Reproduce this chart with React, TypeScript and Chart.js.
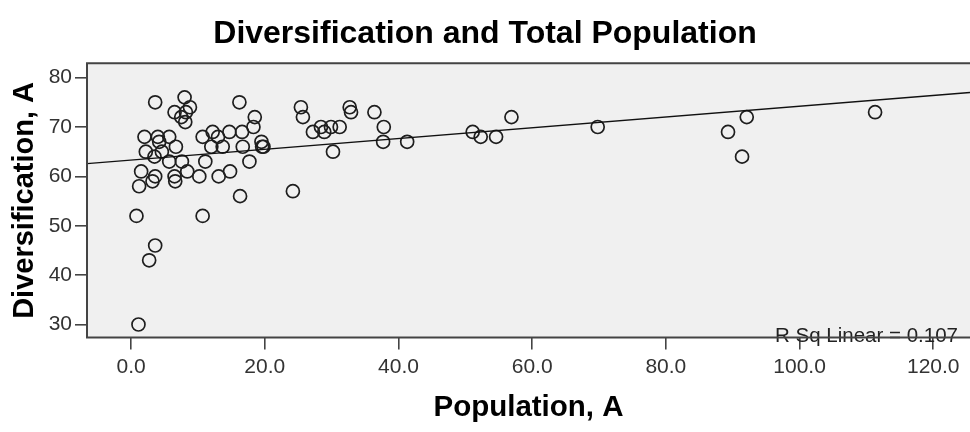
import React, { useEffect, useRef } from 'react';
import { Chart, registerables } from 'chart.js';

Chart.register(...registerables);

// Population, A (x) and Diversification, A (y)
const popX = [
  1.1, 0.8, 2.7, 3.6, 1.2, 3.2, 1.5, 3.6, 2.2, 4.6, 3.5, 2.0, 4.0, 5.7, 4.2, 6.7, 5.7, 7.6, 6.5, 6.6, 8.4, 3.6, 8.0, 8.8, 6.5, 7.5, 8.1, 8.2,
  10.7, 10.2, 11.1, 10.7, 12.2, 13.0, 14.7, 16.6, 12.0, 13.7, 16.7, 19.5, 19.8, 19.6, 13.1, 14.8, 17.7, 16.3, 16.2, 18.5, 18.3,
  24.2, 25.4, 25.7, 27.2, 28.4, 28.9, 29.9, 31.2, 30.2, 32.7, 32.9, 36.4, 37.8, 37.7, 41.3, 51.1, 52.3, 54.6, 56.9, 69.8, 89.3, 92.1, 91.4, 111.3,
];
const divY = [
  30, 52, 43, 46, 58, 59, 61, 60, 65, 65, 64, 68, 68, 68, 67, 66, 63, 63, 60, 59, 61, 75, 76, 74, 73, 72, 71, 73,
  52, 60, 63, 68, 69, 68, 69, 69, 66, 66, 66, 67, 66, 66, 60, 61, 63, 56, 75, 72, 70,
  57, 74, 72, 69, 70, 69, 70, 70, 65, 74, 73, 73, 70, 67, 67, 69, 68, 68, 72, 70, 69, 72, 64, 73,
];

const xTicks = [0, 20, 40, 60, 80, 100, 120];
const yTicks = [30, 40, 50, 60, 70, 80];

// fitted line
const fitIntercept = 63.3;
const fitSlope = 0.109;
const rSqLabel = 'R Sq Linear = 0.107';

const titleText = 'Diversification and Total Population';
const xTitle = 'Population, A';
const yTitle = 'Diversification, A';

const X_MIN = -6.6;
const X_MAX = 125.5;
const Y_MIN = 27.37;
const Y_MAX = 82.9;

const FONT = "'Liberation Sans', Arial, sans-serif";

const framePlugin = {
  id: 'frame',
  beforeDraw(chart: any) {
    const { ctx, chartArea } = chart;
    ctx.save();
    ctx.fillStyle = '#f0f0f0';
    ctx.fillRect(chartArea.left, chartArea.top, chartArea.right - chartArea.left, chartArea.bottom - chartArea.top);
    ctx.restore();
  },
  afterDraw(chart: any) {
    const { ctx, chartArea } = chart;
    const { left, top, right, bottom } = chartArea;
    ctx.save();
    ctx.fillStyle = '#222';
    ctx.font = `20.5px ${FONT}`;
    ctx.textAlign = 'right';
    ctx.textBaseline = 'alphabetic';
    ctx.fillText(rSqLabel, right - 12, bottom + 4.5);
    ctx.strokeStyle = '#444';
    ctx.lineWidth = 2;
    ctx.beginPath();
    ctx.moveTo(right + 2, top);
    ctx.lineTo(left, top);
    ctx.lineTo(left, bottom);
    ctx.lineTo(right + 2, bottom);
    ctx.stroke();
    ctx.restore();
  },
};

export default function App() {
  const canvasRef = useRef<HTMLCanvasElement | null>(null);

  useEffect(() => {
    document.body.style.margin = '0';
    if (!canvasRef.current) return;
    const points = popX.map((x, i) => ({ x, y: divY[i] }));
    const fitLine = [X_MIN, X_MAX].map((x) => ({ x, y: fitIntercept + fitSlope * x }));

    const chart = new Chart(canvasRef.current, {
      type: 'scatter',
      data: {
        datasets: [
          {
            type: 'line',
            data: fitLine,
            borderColor: '#111',
            borderWidth: 1.4,
            pointRadius: 0,
            fill: false,
          } as any,
          {
            data: points,
            pointStyle: 'circle',
            pointRadius: 6.5,
            pointBorderWidth: 1.7,
            borderColor: '#1e1e1e',
            backgroundColor: 'rgba(0,0,0,0)',
            pointHoverRadius: 6.5,
          },
        ],
      },
      options: {
        animation: false,
        responsive: true,
        maintainAspectRatio: false,
        layout: { padding: 0, autoPadding: false },
        events: [],
        plugins: {
          legend: { display: false },
          tooltip: { enabled: false },
          title: {
            display: true,
            text: titleText,
            color: '#000',
            font: { family: FONT, size: 32, weight: 'bold' },
            padding: { top: 15, bottom: 9.9 },
          },
        },
        scales: {
          x: {
            type: 'linear',
            min: X_MIN,
            max: X_MAX,
            afterBuildTicks: (scale: any) => {
              scale.ticks = xTicks.map((v) => ({ value: v }));
            },
            afterFit: (scale: any) => {
              scale.height = 94.5;
              scale.paddingLeft = 0;
              scale.paddingRight = 0;
            },
            ticks: {
              color: '#333',
              font: { family: FONT, size: 21 },
              padding: 5,
              maxRotation: 0,
              autoSkip: false,
              callback: (v: any) => Number(v).toFixed(1),
            },
            grid: {
              drawOnChartArea: false,
              drawTicks: true,
              tickLength: 12,
              color: '#444',
              lineWidth: 1.6,
            },
            border: { display: false },
            title: {
              display: true,
              text: xTitle,
              color: '#000',
              font: { family: FONT, size: 29.5, weight: 'bold' },
              padding: { top: 0, bottom: 6.8 },
            },
          },
          y: {
            type: 'linear',
            min: Y_MIN,
            max: Y_MAX,
            afterBuildTicks: (scale: any) => {
              scale.ticks = yTicks.map((v) => ({ value: v }));
            },
            afterFit: (scale: any) => {
              scale.width = 87;
              scale.paddingTop = 0;
              scale.paddingBottom = 0;
            },
            ticks: {
              color: '#333',
              font: { family: FONT, size: 21 },
              padding: 3,
              autoSkip: false,
              callback: (v: any) => String(v),
            },
            grid: {
              drawOnChartArea: false,
              drawTicks: true,
              tickLength: 12,
              color: '#444',
              lineWidth: 1.6,
            },
            border: { display: false },
            title: {
              display: true,
              text: yTitle,
              color: '#000',
              font: { family: FONT, size: 29, weight: 'bold' },
              padding: { top: 7.6, bottom: 0 },
            },
          },
        },
      },
      plugins: [framePlugin],
    });
    return () => chart.destroy();
  }, []);

  return (
    <div style={{ position: 'absolute', left: 0, top: 0, width: 970, height: 432 }}>
      <canvas ref={canvasRef} />
    </div>
  );
}
